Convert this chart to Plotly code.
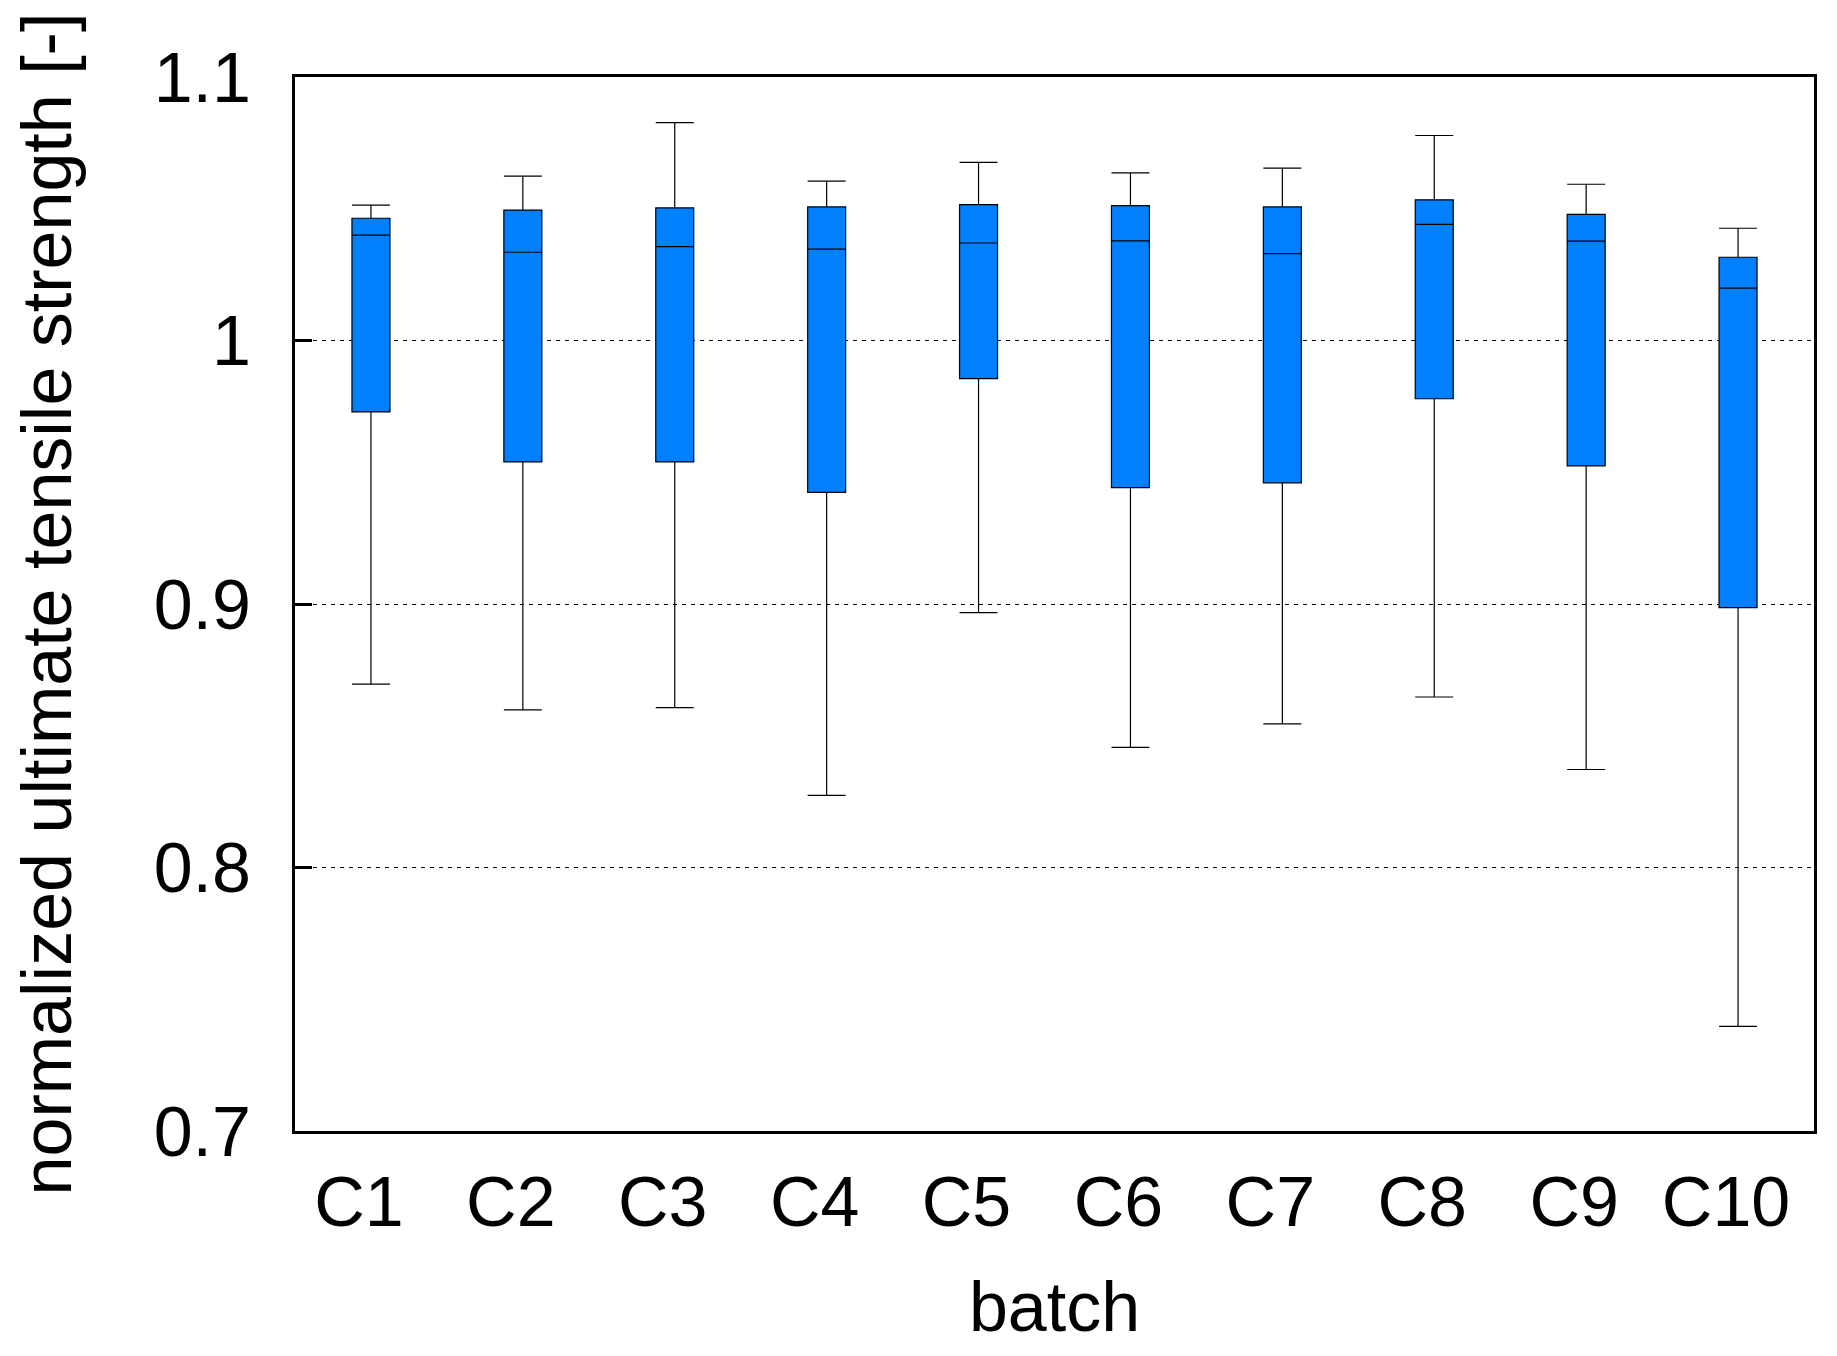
import plotly.graph_objects as go

batches = ["C1", "C2", "C3", "C4", "C5", "C6", "C7", "C8", "C9", "C10"]
whisker_low = [0.8696, 0.8598, 0.8607, 0.8274, 0.8967, 0.8456, 0.8545, 0.8647, 0.8372, 0.7397]
box_q1 = [0.9729, 0.9539, 0.9539, 0.9424, 0.9855, 0.9442, 0.9460, 0.9779, 0.9524, 0.8986]
box_median = [1.0400, 1.0335, 1.0356, 1.0347, 1.0370, 1.0378, 1.0330, 1.0441, 1.0377, 1.0199]
box_q3 = [1.0464, 1.0495, 1.0503, 1.0507, 1.0516, 1.0512, 1.0507, 1.0534, 1.0479, 1.0316]
whisker_high = [1.0514, 1.0624, 1.0827, 1.0605, 1.0676, 1.0636, 1.0654, 1.0778, 1.0593, 1.0426]

y_ticks = [0.7, 0.8, 0.9, 1.0, 1.1]
y_tick_labels = ["0.7", "0.8", "0.9", "1", "1.1"]

FONT = "Liberation Sans, Arial, Helvetica, sans-serif"
FS = 70

fig = go.Figure()
fig.add_trace(go.Box(
    x=batches,
    q1=box_q1,
    median=box_median,
    q3=box_q3,
    lowerfence=whisker_low,
    upperfence=whisker_high,
    width=0.25,
    whiskerwidth=1,
    fillcolor="#0080ff",
    line=dict(color="black", width=1.2),
    boxpoints=False,
    showlegend=False,
    hoverinfo="skip",
))

fig.update_layout(
    width=1821,
    height=1340,
    margin=dict(l=287, r=15, t=69, b=217),
    paper_bgcolor="white",
    plot_bgcolor="white",
    font=dict(family=FONT, size=FS, color="black"),
    showlegend=False,
)

fig.update_xaxes(
    type="category",
    categoryorder="array",
    categoryarray=batches,
    range=[-0.5, 9.5],
    showline=True,
    mirror=True,
    linecolor="black",
    linewidth=3,
    showgrid=False,
    ticks="",
    ticklabelstandoff=8,
    ticklabelshift=-12,
    tickfont=dict(family=FONT, size=FS, color="black"),
    title=dict(text="batch", font=dict(family=FONT, size=FS, color="black"), standoff=42),
    zeroline=False,
)

fig.update_yaxes(
    range=[0.7, 1.1],
    tickmode="array",
    tickvals=y_ticks,
    ticktext=y_tick_labels,
    showline=True,
    mirror=True,
    linecolor="black",
    linewidth=3,
    ticks="inside",
    ticklen=17,
    tickwidth=3,
    tickcolor="black",
    ticklabelstandoff=27,
    showgrid=True,
    gridcolor="black",
    gridwidth=1,
    griddash="4px,5px",
    tickfont=dict(family=FONT, size=FS, color="black"),
    title=dict(text="normalized ultimate tensile strength [-]",
               font=dict(family=FONT, size=FS, color="black"), standoff=78),
    zeroline=False,
)

fig.write_html("out.html")
